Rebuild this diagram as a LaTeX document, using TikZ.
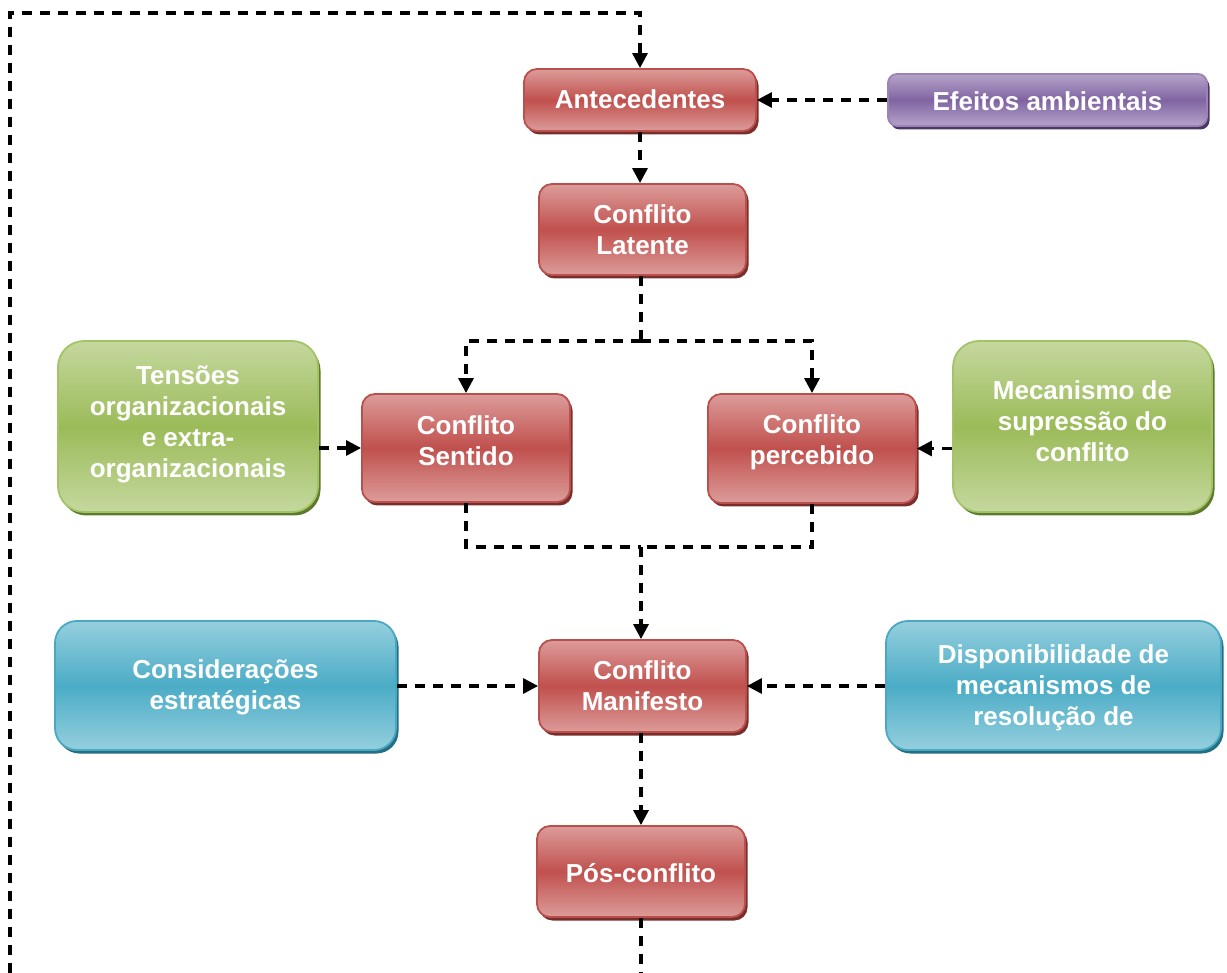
\documentclass[tikz,border=0pt]{standalone}
\usepackage{fontspec}
\setmainfont{Liberation Sans}
\usetikzlibrary{arrows.meta,shadows}
\definecolor{redlt}{HTML}{DC9C9A}
\definecolor{redmd}{HTML}{C0504D}
\definecolor{redbd}{HTML}{B9504C}
\definecolor{redsh}{HTML}{7A2E2C}
\definecolor{grnlt}{HTML}{C5D89E}
\definecolor{grnmd}{HTML}{9BBB59}
\definecolor{grnbd}{HTML}{A3C466}
\definecolor{grnsh}{HTML}{5E7A2C}
\definecolor{blult}{HTML}{95CFDE}
\definecolor{blumd}{HTML}{4BACC6}
\definecolor{blubd}{HTML}{4AA9C2}
\definecolor{blush}{HTML}{256F82}
\definecolor{purlt}{HTML}{B5A4C9}
\definecolor{purmd}{HTML}{8064A2}
\definecolor{purbd}{HTML}{9B82B9}
\definecolor{pursh}{HTML}{4A3863}
\tikzset{
  box/.style={align=center, text=white, font=\bfseries\fontsize{26}{31}\selectfont,
    inner sep=0pt, line width=1.8pt},
  redbox/.style={box, rounded corners=13pt, draw=redbd, top color=redlt, bottom color=redlt, middle color=redmd,
    general shadow={fill=redsh, shadow xshift=2.5pt, shadow yshift=-3.5pt}},
  grnbox/.style={box, rounded corners=26pt, draw=grnbd, top color=grnlt, bottom color=grnlt, middle color=grnmd,
    general shadow={fill=grnsh, shadow xshift=2.5pt, shadow yshift=-3.5pt}},
  blubox/.style={box, rounded corners=22pt, draw=blubd, top color=blult, bottom color=blult, middle color=blumd,
    general shadow={fill=blush, shadow xshift=2.5pt, shadow yshift=-3.5pt}},
  purbox/.style={box, rounded corners=9pt, draw=purbd, top color=purlt, bottom color=purlt, middle color=purmd,
    general shadow={fill=pursh, shadow xshift=2.5pt, shadow yshift=-3.5pt}},
  dl/.style={line width=3.1pt, dash pattern=on 10pt off 8pt, black},
  arr/.style={dl, -{Triangle[length=15pt,width=15pt]}},
}
\begin{document}
\begin{tikzpicture}[x=1pt,y=-1pt]
\useasboundingbox (0,0) rectangle (1227,973);
% nodes
\node[redbox, minimum width=232pt, minimum height=62pt] (ante) at (640,100) {};
\node[box] (antet) at (640,99) {Antecedentes};
\node[purbox, minimum width=319pt, minimum height=52pt] (efe) at (1047.5,100) {};
\node[box] (efet) at (1047.5,101) {Efeitos ambientais};
\node[redbox, minimum width=207pt, minimum height=91pt] (lat) at (642.5,229.5) {Conflito\\Latente};
\node[grnbox, minimum width=260pt, minimum height=171pt] (ten) at (188,426.5) {};
\node[box] (tent) at (188,424) {Tensões\\organizacionais\\e extra-\\organizacionais};
\node[redbox, minimum width=208pt, minimum height=108pt] (sent) at (466,448) {};
\node[box] (sentt) at (466,441) {Conflito\\Sentido};
\node[redbox, minimum width=208pt, minimum height=109pt] (perc) at (812,448.5) {};
\node[box] (perct) at (812,442) {Conflito\\percebido};
\node[grnbox, minimum width=259pt, minimum height=171pt] (mec) at (1082.5,426.5) {};
\node[box] (mect) at (1082.5,421) {Mecanismo de\\supressão do\\conflito};
\node[blubox, minimum width=341pt, minimum height=129pt] (con) at (225.5,685.5) {};
\node[box] (cont) at (225.5,687) {Considerações\\estratégicas};
\node[redbox, minimum width=207pt, minimum height=92pt] (man) at (642.5,686) {Conflito\\Manifesto};
\node[blubox, minimum width=335pt, minimum height=129pt] (dis) at (1053.5,685.5) {};
\node[box] (dist) at (1053.5,687.5) {Disponibilidade de\\mecanismos de\\resolução de};
\node[redbox, minimum width=208pt, minimum height=91pt] (pos) at (641,871.5) {};
\node[box] (post) at (641,873) {Pós-conflito};
% helper coordinates
\coordinate (split) at (641,341);
\coordinate (merge) at (641,547);
\coordinate (bot) at (641,973);
\coordinate (botl) at (10,973);
\coordinate (topl) at (10,13);
% connectors
\draw[arr] (efe.west) -- (ante.east);
\draw[arr] (ante.south) -- (ante.south |- lat.north);
\draw[dl] (lat.south -| split) -- (split);
\draw[arr] (split) -| (sent.north);
\draw[arr] (split) -| (perc.north);
\draw[arr] (ten.east |- sent.west) -- (sent.west);
\draw[arr] (mec.west |- perc.east) -- (perc.east);
\draw[dl] (sent.south) |- (merge);
\draw[dl] (perc.south) |- (merge);
\draw[arr] (merge) -- (merge |- man.north);
\draw[arr] (con.east |- man.west) -- (man.west);
\draw[arr] (dis.west |- man.east) -- (man.east);
\draw[arr] (man.south -| merge) -- (merge |- pos.north);
\draw[dl] (pos.south -| bot) -- (bot);
\draw[arr] (botl) -- (topl) -| (ante.north);
\end{tikzpicture}
\end{document}
